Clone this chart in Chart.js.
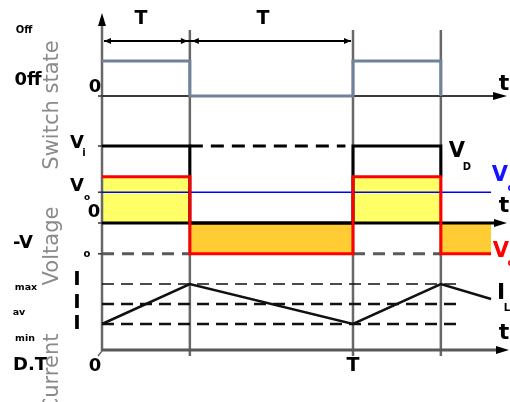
<!DOCTYPE html>
<html>
<head>
<meta charset="utf-8">
<script src="https://cdn.jsdelivr.net/npm/chart.js@4/dist/chart.umd.min.js"></script>
<style>
  html, body { margin: 0; padding: 0; background: #fff; }
  canvas { display: block; }
</style>
</head>
<body>
<canvas id="buckBoost" width="510" height="402"></canvas>
<script>
// Time in units of the period T, D = duty cycle
const D = 0.35;
const tEnd = 1.55;

// Switch state (1 = on)
const switchTimes = [0, D, 1, 1 + D];
const switchState = [1, 0, 1, 0];

// Voltages
const vTimes = [0, D, 1, 1 + D, tEnd];
const vSwitch = [10, 0, 10, 6];          // black trace
const vDiode = [6, -4, 6, -4, -4];       // red trace
const vIn = 10;
const vOut = 4;
const vNeg = -4;

// Inductor current
const iTimes = [0, D, 1, 1 + D, tEnd];
const iL = [2.6, 6.6, 2.6, 6.6, 5.1];
const iMax = 6.6, iAv = 4.6, iMin = 2.6;
const iDashEnd = 1.43;

const W = 510, H = 402;

function pts(xs, ys) {
    return ys.map((y, i) => ({ x: xs[i], y: y }));
}

// value range so that v0 lands on pixel p0 and v1 on pixel p1
function yBand(v0, p0, v1, p1) {
    const k = (p0 - p1) / (v1 - v0);
    return { min: v0 - (H - p0) / k, max: v0 + p0 / k };
}
function xBand(v0, p0, v1, p1) {
    const k = (p1 - p0) / (v1 - v0);
    return { min: v0 - p0 / k, max: v0 + (W - p0) / k };
}

function arrowHead(ctx, x, y, dir, len, half, color) {
    ctx.save();
    ctx.fillStyle = color;
    ctx.beginPath();
    if (dir === 'right') {
        ctx.moveTo(x, y); ctx.lineTo(x - len, y - half); ctx.lineTo(x - len, y + half);
    } else if (dir === 'left') {
        ctx.moveTo(x, y); ctx.lineTo(x + len, y - half); ctx.lineTo(x + len, y + half);
    } else {
        ctx.moveTo(x, y); ctx.lineTo(x - half, y + len); ctx.lineTo(x + half, y + len);
    }
    ctx.closePath();
    ctx.fill();
    ctx.restore();
}

const bold = s => 'bold ' + s + 'px "DejaVu Sans"';
const texts = [
    ['T', 141, 19, bold(19)], ['T', 263, 19, bold(19)],
    ['Off', 24, 30, bold(10)], ['0ff', 28, 80, bold(18)], ['0', 95, 87, bold(18)],
    ['t', 504, 84, bold(22)],
    ['V', 77, 143, bold(18)], ['i', 84, 153, bold(10)],
    ['V', 77, 186, bold(18)], ['o', 87, 198, bold(9)],
    ['0', 94, 212, bold(18)], ['-V', 23, 243, bold(18)], ['o', 87, 254, bold(10)],
    ['V', 457, 152, bold(21)], ['D', 467, 167, bold(10)],
    ['V', 500, 176, bold(21), '#1414ff'], ['o', 511, 188, bold(10), '#1414ff'],
    ['t', 504, 206, bold(22)],
    ['V', 501, 252, bold(21), '#ff0000'], ['o', 511, 263, bold(10), '#ff0000'],
    ['max', 26, 288, bold(9.5)], ['av', 19, 313, bold(9.5)], ['min', 25, 339, bold(9.5)],
    ['I', 77, 280, bold(20)], ['I', 77, 303, bold(20)], ['I', 77, 324, bold(20)],
    ['I', 501, 293, bold(22)], ['L', 507, 308, bold(10)],
    ['t', 504, 333, bold(22)],
    ['D.T', 30, 365, bold(18)], ['0', 95, 366, bold(18)], ['T', 353, 366, bold(19)]
];
const sideTitles = [['Switch state', 53, 105], ['Voltage', 53, 246], ['Current', 53, 373]];

const diagram = {
    id: 'diagram',
    beforeDatasetsDraw(chart) {
        const ctx = chart.ctx;
        const x = chart.scales.x, sw = chart.scales.ySw, v = chart.scales.yV, cur = chart.scales.yI;
        const x0 = x.getPixelForValue(0);
        ctx.save();
        // vertical guides at D.T, T, T + D.T
        ctx.strokeStyle = '#686868';
        ctx.lineWidth = 2.5;
        [D, 1, 1 + D].forEach(t => {
            const px = x.getPixelForValue(t);
            ctx.beginPath(); ctx.moveTo(px, 30); ctx.lineTo(px, 356); ctx.stroke();
        });
        // main vertical axis
        ctx.beginPath(); ctx.moveTo(x0, 351); ctx.lineTo(x0, 24); ctx.stroke();
        ctx.lineWidth = 1.5;
        ctx.beginPath(); ctx.moveTo(x0, 351); ctx.lineTo(x0 - 4, 356); ctx.stroke();
        // ticks
        ctx.strokeStyle = '#333';
        [sw.getPixelForValue(0), v.getPixelForValue(vIn), v.getPixelForValue(vOut),
         v.getPixelForValue(0), v.getPixelForValue(vNeg)].forEach(py => {
            ctx.beginPath(); ctx.moveTo(x0 - 4, py); ctx.lineTo(x0, py); ctx.stroke();
        });
        // time axes
        let py = sw.getPixelForValue(0);
        ctx.strokeStyle = '#3a3a3a'; ctx.lineWidth = 2;
        ctx.beginPath(); ctx.moveTo(x0, py); ctx.lineTo(494, py); ctx.stroke();
        py = v.getPixelForValue(0);
        ctx.strokeStyle = '#000'; ctx.lineWidth = 3;
        ctx.beginPath(); ctx.moveTo(x0, py); ctx.lineTo(496, py); ctx.stroke();
        py = cur.getPixelForValue(0);
        ctx.strokeStyle = '#585858'; ctx.lineWidth = 3;
        ctx.beginPath(); ctx.moveTo(x0, py); ctx.lineTo(498, py); ctx.stroke();
        ctx.restore();
    },
    afterDatasetsDraw(chart) {
        const ctx = chart.ctx;
        const x = chart.scales.x, sw = chart.scales.ySw, v = chart.scales.yV, cur = chart.scales.yI;
        const x0 = x.getPixelForValue(0), xD = x.getPixelForValue(D), x1 = x.getPixelForValue(1);
        arrowHead(ctx, 507, sw.getPixelForValue(0), 'right', 14, 4, '#000');
        arrowHead(ctx, 507, v.getPixelForValue(0), 'right', 13, 4, '#000');
        arrowHead(ctx, 509, cur.getPixelForValue(0), 'right', 13, 4, '#000');
        arrowHead(ctx, x0, 13, 'up', 13, 4, '#000');

        // period dimension arrows
        ctx.save();
        ctx.strokeStyle = '#000'; ctx.lineWidth = 2;
        ctx.beginPath(); ctx.moveTo(x0 + 2, 41); ctx.lineTo(x1 - 2, 41); ctx.stroke();
        ctx.restore();
        arrowHead(ctx, x0 + 2, 41, 'left', 7, 3, '#000');
        arrowHead(ctx, xD - 2, 41, 'right', 7, 3, '#000');
        arrowHead(ctx, xD + 2, 41, 'left', 7, 3, '#000');
        arrowHead(ctx, x1 - 2, 41, 'right', 7, 3, '#000');

        ctx.save();
        ctx.textAlign = 'center';
        ctx.textBaseline = 'middle';
        texts.forEach(([s, tx, ty, font, color]) => {
            ctx.font = font;
            ctx.fillStyle = color || '#000';
            ctx.fillText(s, tx, ty);
        });
        ctx.font = '21px "DejaVu Sans"';
        ctx.fillStyle = '#8a8a8a';
        sideTitles.forEach(([s, tx, ty]) => {
            ctx.save();
            ctx.translate(tx, ty);
            ctx.rotate(-Math.PI / 2);
            ctx.fillText(s, 0, 0);
            ctx.restore();
        });
        ctx.restore();
    }
};

const line = (data, yAxisID, color, width, extra) => Object.assign({
    data: data, yAxisID: yAxisID, borderColor: color, borderWidth: width,
    pointRadius: 0, fill: false, tension: 0
}, extra || {});

new Chart(document.getElementById('buckBoost'), {
    type: 'line',
    data: {
        datasets: [
            line(pts(vTimes, vDiode), 'yV', '#ff0000', 3, {
                order: 1, stepped: 'before',
                fill: { target: 'origin', above: '#ffff66', below: '#ffcc33' }
            }),
            line(pts(vTimes, vSwitch), 'yV', '#000000', 3, { order: 2, stepped: 'before' }),
            line(pts([0, tEnd], [vOut, vOut]), 'yV', '#0000ff', 1.5, { order: 3 }),
            line(pts([D, 0.97], [vIn, vIn]), 'yV', '#000000', 3, { order: 4, borderDash: [13, 8] }),
            line([{ x: 0, y: vNeg }, { x: D, y: vNeg }, { x: 0.6, y: null }, { x: 1, y: vNeg }, { x: 1 + D, y: vNeg }],
                'yV', '#5a5a5a', 3, { order: 5, borderDash: [12, 8], spanGaps: false }),
            line(pts(switchTimes, switchState), 'ySw', '#6f8499', 3, { order: 6, stepped: 'before' }),
            line(pts(iTimes, iL), 'yI', '#111111', 2.5, { order: 7 }),
            line(pts([0, iDashEnd], [iMax, iMax]), 'yI', '#111111', 1.5, { order: 8, borderDash: [12, 7] }),
            line(pts([0, iDashEnd], [iAv, iAv]), 'yI', '#111111', 2.5, { order: 9, borderDash: [12, 7] }),
            line(pts([0, iDashEnd], [iMin, iMin]), 'yI', '#111111', 2.5, { order: 10, borderDash: [12, 7] })
        ]
    },
    options: {
        responsive: false,
        animation: false,
        events: [],
        layout: { padding: 0 },
        plugins: {
            legend: { display: false },
            tooltip: { enabled: false },
            filler: { drawTime: 'beforeDatasetsDraw' }
        },
        scales: {
            x: Object.assign({ type: 'linear', display: false }, xBand(0, 102, 1, 353)),
            ySw: Object.assign({ type: 'linear', display: false, position: 'left' }, yBand(0, 96, 1, 61)),
            yV: Object.assign({ type: 'linear', display: false, position: 'left' }, yBand(0, 223, vIn, 146)),
            yI: Object.assign({ type: 'linear', display: false, position: 'left' }, yBand(0, 350, iMax, 284))
        }
    },
    plugins: [diagram]
});
</script>
</body>
</html>
